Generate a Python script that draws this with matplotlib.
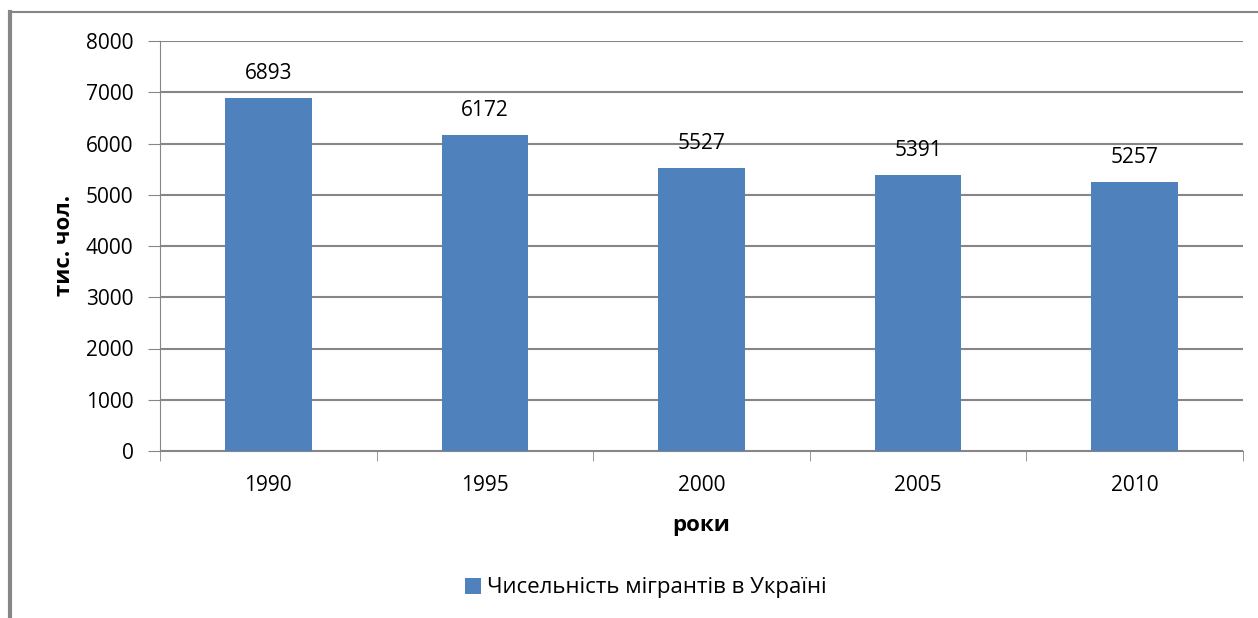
import matplotlib.pyplot as plt
from matplotlib.lines import Line2D

years = ['1990', '1995', '2000', '2005', '2010']
migrants = [6893, 6172, 5527, 5391, 5257]
series_name = 'Чисельність мігрантів в Україні'

plt.rcParams['font.family'] = ['Open Sans', 'DejaVu Sans']

fig = plt.figure(figsize=(12.58, 6.18), dpi=100)
ax = fig.add_axes([160 / 1258, 1 - 451 / 618, 1083 / 1258, 410 / 618])

x = range(len(years))
bars = ax.bar(x, migrants, width=0.4, color='#4F81BD', label=series_name, zorder=3)

for xi, v in zip(x, migrants):
    ax.annotate(str(v), (xi, v), xytext=(0, 10), textcoords='offset points',
                ha='center', va='bottom', fontsize=15)

ax.set_xlim(-0.5, len(years) - 0.5)
ax.set_ylim(0, 8000)
ax.set_yticks(range(0, 8001, 1000))
ax.tick_params(axis='y', labelsize=15, length=9, color='#868686', pad=10)
ax.set_xticks(x)
ax.set_xticklabels(years, fontsize=15)
ax.set_xticks([i - 0.5 for i in range(len(years) + 1)], minor=True)
ax.tick_params(axis='x', which='major', length=0, pad=17)
ax.tick_params(axis='x', which='minor', length=7, color='#868686')

ax.grid(axis='y', color='#868686', linewidth=1.5, zorder=0)
for s in ('top', 'right'):
    ax.spines[s].set_visible(False)
ax.spines['left'].set_color('#868686')
ax.spines['bottom'].set_color('#868686')

ax.set_ylabel('тис. чол.', fontsize=16, fontweight='bold', labelpad=8)
ax.set_xlabel('роки', fontsize=16, fontweight='bold', labelpad=14)

fig.legend(loc='center', bbox_to_anchor=(646 / 1258, 1 - 588 / 618), frameon=False,
           fontsize=16, handlelength=0.7, handleheight=0.7, handletextpad=0.3)

# outer chart frame
fig.add_artist(Line2D([10 / 1258, 10 / 1258], [0, 1 - 12 / 618], color='#868686', linewidth=3))
fig.add_artist(Line2D([10 / 1258, 1], [1 - 12 / 618, 1 - 12 / 618], color='#868686', linewidth=1.5))

fig.savefig('out.png', dpi=100)
